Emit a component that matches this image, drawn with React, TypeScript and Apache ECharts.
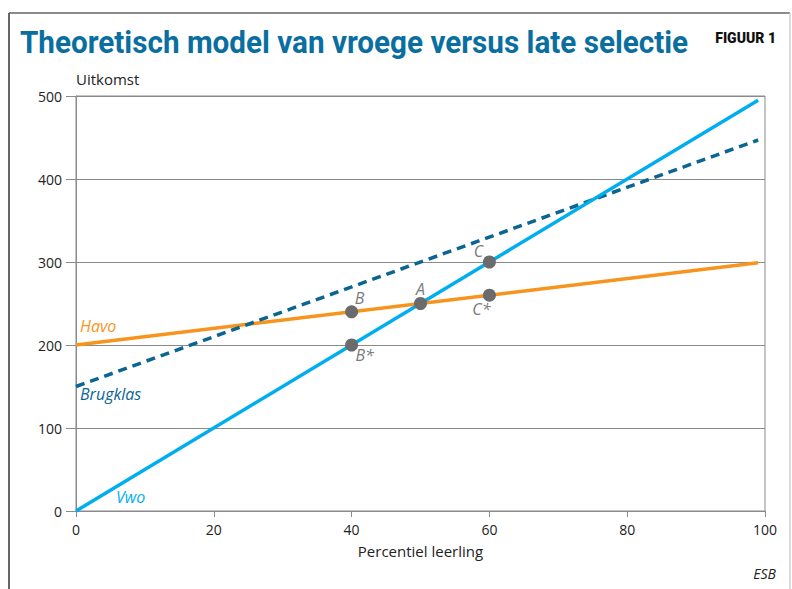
import React, { useEffect, useRef } from "react";
import * as echarts from "echarts";

const xTicks = [0, 20, 40, 60, 80, 100];
const yTicks = [0, 100, 200, 300, 400, 500];

const lineX = [0, 99];
const vwoValues = [0, 495];
const havoValues = [200, 299];
const brugklasValues = [150, 447];

const pointNames = ["B", "A", "C", "C*", "B*"];
const pointX = [40, 50, 60, 60, 40];
const pointY = [240, 250, 300, 260, 200];

const C_VWO = "#00aeef";
const C_HAVO = "#f7941d";
const C_BRUG = "#0b6592";
const C_PT = "#6b6b6d";
const FONT = "'Open Sans', 'Noto Sans', sans-serif";

const TITLE = "Theoretisch model van vroege versus late selectie";
const TITLE_FONT = "bold 32px Roboto, 'Noto Sans', sans-serif";
const TITLE_WIDTH = 668;

const labelOffsets: Record<string, number[]> = {
  B: [8, -14],
  A: [0, -15],
  C: [-11, -11],
  "C*": [-8, 14],
  "B*": [13, 10],
};

function measure(text: string, font: string): number {
  const c = document.createElement("canvas");
  const ctx = c.getContext("2d");
  if (!ctx) return TITLE_WIDTH;
  ctx.font = font;
  return ctx.measureText(text).width || TITLE_WIDTH;
}

export default function App() {
  const ref = useRef<HTMLDivElement>(null);
  useEffect(() => {
    if (!ref.current) return;
    const chart = echarts.init(ref.current, null, { renderer: "svg" });
    const titleScale = TITLE_WIDTH / measure(TITLE, TITLE_FONT);
    const pts = pointNames.map((n, i) => ({
      name: n,
      value: [pointX[i], pointY[i]],
      label: {
        show: true,
        position: "inside",
        offset: labelOffsets[n],
        formatter: n,
        color: "#7a7a7c",
        fontStyle: "italic",
        fontSize: 16,
        fontFamily: FONT,
      },
    }));
    chart.setOption({
      animation: false,
      backgroundColor: "#ffffff",
      grid: {
        left: 76,
        right: 27,
        top: 96,
        bottom: 78,
        show: true,
        borderColor: "#8a8a8a",
        borderWidth: 1,
      },
      xAxis: {
        type: "value",
        min: 0,
        max: 100,
        interval: 20,
        name: "Percentiel leerling",
        nameLocation: "middle",
        nameGap: 32,
        nameTextStyle: { fontSize: 15, color: "#222", fontFamily: FONT },
        axisLine: { show: true, lineStyle: { color: "#8a8a8a", width: 1 } },
        axisTick: { show: true, length: 6, lineStyle: { color: "#8a8a8a" } },
        axisLabel: { fontSize: 14, color: "#222", margin: 11, fontFamily: FONT },
        splitLine: { show: false },
      },
      yAxis: {
        type: "value",
        min: 0,
        max: 500,
        interval: 100,
        axisLine: { show: true, lineStyle: { color: "#8a8a8a", width: 1 } },
        axisTick: { show: true, length: 10, lineStyle: { color: "#8a8a8a" } },
        axisLabel: { fontSize: 14, color: "#222", margin: 14, fontFamily: FONT },
        splitLine: { show: true, lineStyle: { color: "#8a8a8a", width: 1 } },
      },
      graphic: [
        { type: "line", shape: { x1: 9, y1: 13, x2: 9, y2: 589 }, style: { stroke: "#333", lineWidth: 1.5 } },
        { type: "line", shape: { x1: 9, y1: 13, x2: 790, y2: 13 }, style: { stroke: "#666", lineWidth: 1.5 } },
        { type: "line", shape: { x1: 790, y1: 13, x2: 790, y2: 589 }, style: { stroke: "#cfcfcf", lineWidth: 1.5 } },
        {
          type: "text",
          x: 20,
          y: 42,
          scaleX: titleScale,
          style: {
            text: TITLE,
            fill: "#0a6fa0",
            font: TITLE_FONT,
            verticalAlign: "middle",
            align: "left",
          },
        },
        {
          type: "text",
          x: 776,
          y: 38,
          style: {
            text: "FIGUUR 1",
            fill: "#111",
            font: "900 14px Roboto, sans-serif",
            align: "right",
            verticalAlign: "middle",
          },
        },
        {
          type: "text",
          left: 76,
          top: 71,
          style: { text: "Uitkomst", fill: "#222", font: "15px " + FONT },
        },
        {
          type: "text",
          left: 80,
          top: 318,
          style: { text: "Havo", fill: C_HAVO, font: "italic 16px " + FONT },
        },
        {
          type: "text",
          left: 80,
          top: 386,
          style: { text: "Brugklas", fill: C_BRUG, font: "italic 16px " + FONT },
        },
        {
          type: "text",
          left: 116,
          top: 489,
          style: { text: "Vwo", fill: C_VWO, font: "italic 16px " + FONT },
        },
        {
          type: "text",
          right: 16,
          top: 566,
          style: { text: "ESB", fill: "#222", font: "italic 14px " + FONT },
        },
      ],
      series: [
        {
          type: "line",
          name: "Havo",
          data: lineX.map((x, i) => [x, havoValues[i]]),
          showSymbol: false,
          lineStyle: { color: C_HAVO, width: 3.5 },
          z: 3,
        },
        {
          type: "line",
          name: "Brugklas",
          data: lineX.map((x, i) => [x, brugklasValues[i]]),
          showSymbol: false,
          lineStyle: { color: C_BRUG, width: 3.5, type: [9, 6] },
          z: 3,
        },
        {
          type: "line",
          name: "Vwo",
          data: lineX.map((x, i) => [x, vwoValues[i]]),
          showSymbol: false,
          lineStyle: { color: C_VWO, width: 3.5 },
          z: 4,
        },
        {
          type: "scatter",
          name: "Punten",
          data: pts,
          symbolSize: 13,
          itemStyle: { color: C_PT, opacity: 1 },
          z: 5,
        },
      ],
    });
    return () => chart.dispose();
  }, []);
  return <div ref={ref} style={{ width: 792, height: 589, position: "absolute", left: 0, top: 0 }} />;
}
